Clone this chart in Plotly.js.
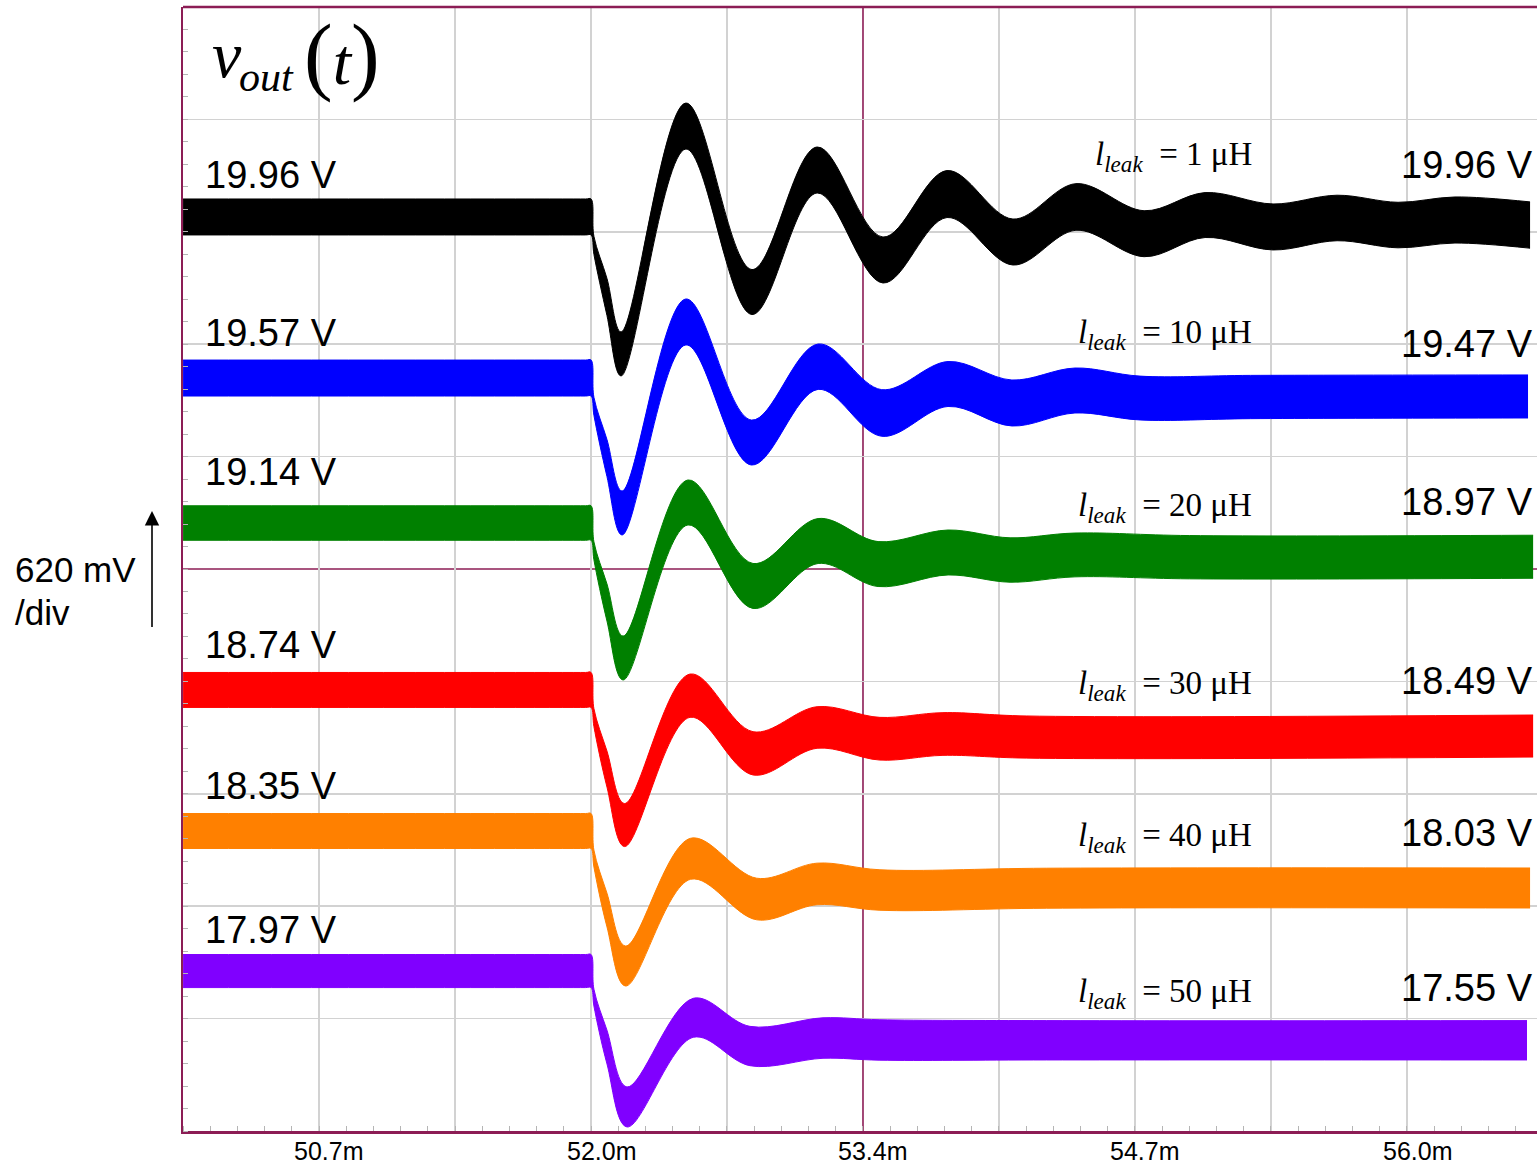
<!DOCTYPE html>
<html><head><meta charset="utf-8">
<script src="https://cdn.plot.ly/plotly-3.0.1.min.js"></script>
<style>html,body{margin:0;padding:0;overflow:hidden;background:#fff}</style>
</head><body><div id="chart" style="width:1537px;height:1164px"></div>
<script>
// ---------- DATA (time in ms, level in scope divisions, ripple p-p in divisions) ----------
const tickVals = [50.733, 51.4, 52.067, 52.733, 53.4, 54.067, 54.733, 55.4, 56.067];
const tickText = ['50.7m', '', '52.0m', '', '53.4m', '', '54.7m', '', '56.0m'];
const xCenter = 53.4;           // centre time division
const yDivs = [1, 2, 3, 4, 5, 6, 7, 8, 9];
const yCenter = 5;              // centre vertical division

const leakValues = ['1', '10', '20', '30', '40', '50'];
const vBefore = ['19.96 V', '19.57 V', '19.14 V', '18.74 V', '18.35 V', '17.97 V'];
const vAfter  = ['19.96 V', '19.47 V', '18.97 V', '18.49 V', '18.03 V', '17.55 V'];

const tBlack = [50.067, 52.040, 52.067, 52.081, 52.145, 52.214, 52.532, 52.856, 53.175, 53.498, 53.812, 54.135, 54.444, 54.778, 55.077, 55.410, 55.724, 56.023, 56.302, 56.670];
const cBlack = [8.132, 8.132, 8.132, 7.880, 7.420, 6.913, 8.941, 7.464, 8.550, 7.749, 8.336, 7.909, 8.221, 7.983, 8.149, 8.043, 8.123, 8.060, 8.105, 8.060];
const rBlack = [0.320, 0.320, 0.320, 0.160, 0.330, 0.391, 0.409, 0.400, 0.409, 0.409, 0.418, 0.409, 0.415, 0.409, 0.400, 0.409, 0.405, 0.405, 0.410, 0.412];

const tBlue = [50.067, 52.040, 52.067, 52.081, 52.145, 52.219, 52.532, 52.853, 53.180, 53.492, 53.817, 54.130, 54.439, 54.758, 55.300, 56.660];
const cBlue = [6.699, 6.699, 6.699, 6.448, 5.987, 5.498, 7.198, 6.125, 6.800, 6.388, 6.646, 6.477, 6.588, 6.521, 6.530, 6.535];
const rBlue = [0.320, 0.320, 0.320, 0.160, 0.330, 0.391, 0.409, 0.400, 0.404, 0.415, 0.400, 0.409, 0.400, 0.390, 0.385, 0.383];

const tGreen = [50.067, 52.040, 52.067, 52.081, 52.145, 52.224, 52.542, 52.861, 53.180, 53.474, 53.817, 54.121, 54.439, 55.000, 56.685];
const cGreen = [5.409, 5.409, 5.409, 5.162, 4.702, 4.208, 5.592, 4.849, 5.249, 5.044, 5.147, 5.080, 5.125, 5.105, 5.109];
const rGreen = [0.307, 0.307, 0.307, 0.160, 0.330, 0.391, 0.400, 0.400, 0.400, 0.400, 0.400, 0.395, 0.390, 0.385, 0.383];

const tRed = [50.067, 52.040, 52.067, 52.081, 52.145, 52.231, 52.552, 52.861, 53.175, 53.483, 53.792, 54.200, 56.685];
const cRed = [3.924, 3.924, 3.924, 3.678, 3.220, 2.722, 3.873, 3.360, 3.590, 3.490, 3.532, 3.505, 3.514];
const rRed = [0.311, 0.311, 0.311, 0.160, 0.320, 0.383, 0.385, 0.385, 0.370, 0.380, 0.380, 0.375, 0.374];

const tOrange = [50.067, 52.040, 52.067, 52.081, 52.145, 52.236, 52.555, 52.879, 53.175, 53.483, 54.300, 56.670];
const cOrange = [2.669, 2.669, 2.669, 2.424, 1.966, 1.468, 2.422, 2.064, 2.198, 2.144, 2.160, 2.162];
const rOrange = [0.311, 0.311, 0.311, 0.150, 0.300, 0.356, 0.365, 0.370, 0.370, 0.360, 0.356, 0.356];

const tPurple = [50.067, 52.040, 52.067, 52.081, 52.145, 52.243, 52.568, 52.846, 53.204, 53.483, 54.300, 56.655];
const cPurple = [1.423, 1.423, 1.423, 1.187, 0.747, 0.214, 1.007, 0.756, 0.827, 0.810, 0.807, 0.807];
const rPurple = [0.294, 0.294, 0.294, 0.150, 0.300, 0.356, 0.347, 0.350, 0.360, 0.360, 0.350, 0.350];

// ---------- LAYOUT / STYLE ----------
const W = 1537, H = 1164, ML = 183, MT = 7, MB = 33, MR = 0;
const PW = W - ML - MR, PH = H - MT - MB;
const px = x => (x - ML) / PW;
const py = y => (H - MB - y) / PH;

const maroon = '#8c1d55';
const gridC = '#d2d2d2';
const sans = 'Liberation Sans, Arial, sans-serif';
const serif = 'Liberation Serif, Times New Roman, serif';

const series = [
  [tBlack, cBlack, rBlack, '#000000'],
  [tBlue, cBlue, rBlue, '#0000ff'],
  [tGreen, cGreen, rGreen, '#008000'],
  [tRed, cRed, rRed, '#ff0000'],
  [tOrange, cOrange, rOrange, '#ff8000'],
  [tPurple, cPurple, rPurple, '#8000ff']
];

const traces = [];
series.forEach(([t, c, r, col]) => {
  const hi = c.map((v, i) => v + r[i] / 2);
  const lo = c.map((v, i) => v - r[i] / 2);
  traces.push({x: t, y: hi, mode: 'lines', line: {color: col, width: 1, shape: 'spline'}, hoverinfo: 'skip', showlegend: false});
  traces.push({x: t, y: lo, mode: 'lines', line: {color: col, width: 1, shape: 'spline'}, fill: 'tonexty', fillcolor: col, hoverinfo: 'skip', showlegend: false});
});

const leftY = [175, 333, 472, 645, 786, 930];
const rightY = [165, 344, 502, 681, 833, 988];
const leakY = [157, 334, 507, 685, 837, 993];

const ann = [];
// x tick labels (from tickVals / tickText)
tickVals.forEach((v, i) => { if (tickText[i]) ann.push({text: tickText[i], xref: 'x', yref: 'paper', x: v, xshift: 10, y: py(1151), xanchor: 'center', yanchor: 'middle', showarrow: false, font: {family: sans, size: 25, color: '#000'}}); });

vBefore.forEach((s, i) => ann.push({text: s, xref: 'paper', yref: 'paper', x: px(203), y: py(leftY[i]), xanchor: 'left', yanchor: 'middle', showarrow: false, font: {family: sans, size: 38, color: '#000'}}));
vAfter.forEach((s, i) => ann.push({text: s, xref: 'paper', yref: 'paper', x: px(1535), y: py(rightY[i]), xanchor: 'right', yanchor: 'middle', showarrow: false, font: {family: sans, size: 38, color: '#000'}}));
leakValues.forEach((s, i) => ann.push({text: '<i>l</i><sub><i>leak</i></sub>\u00a0\u00a0= ' + s + '\u00a0\u03bcH', xref: 'paper', yref: 'paper', x: px(1254), y: py(leakY[i]), xanchor: 'right', yanchor: 'middle', showarrow: false, font: {family: serif, size: 33, color: '#000'}}));

// title v_out(t)
ann.push({text: '<i>v</i>', xref: 'paper', yref: 'paper', x: px(210), y: py(55), xanchor: 'left', yanchor: 'middle', showarrow: false, font: {family: serif, size: 66, color: '#000'}});
ann.push({text: '<i>out</i>', xref: 'paper', yref: 'paper', x: px(237), y: py(77), xanchor: 'left', yanchor: 'middle', showarrow: false, font: {family: serif, size: 42, color: '#000'}});
ann.push({text: '<span style="font-size:86px">(</span><i>t</i><span style="font-size:86px">)</span>', xref: 'paper', yref: 'paper', x: px(302), y: py(55), xanchor: 'left', yanchor: 'middle', showarrow: false, font: {family: serif, size: 66, color: '#000'}});

// scale note
ann.push({text: '620 mV', xref: 'paper', yref: 'paper', x: px(13), y: py(569), xanchor: 'left', yanchor: 'middle', showarrow: false, font: {family: sans, size: 35, color: '#000'}});
ann.push({text: '/div', xref: 'paper', yref: 'paper', x: px(13), y: py(612), xanchor: 'left', yanchor: 'middle', showarrow: false, font: {family: sans, size: 35, color: '#000'}});
ann.push({text: ' ', xref: 'paper', yref: 'paper', x: px(152), y: py(511), axref: 'pixel', ayref: 'pixel', ax: 0, ay: 126, showarrow: true, arrowhead: 2, arrowsize: 1.8, arrowwidth: 1.6, arrowcolor: '#000', standoff: 0});

const layout = {
  width: W, height: H,
  margin: {l: ML, r: MR, t: MT, b: MB, pad: 0},
  paper_bgcolor: '#fff', plot_bgcolor: '#fff',
  showlegend: false,
  xaxis: {
    range: [50.0667, 56.704], tickmode: 'array',
    tickvals: tickVals.filter(v => v !== xCenter),
    showticklabels: false,
    showgrid: true, gridcolor: gridC, gridwidth: 1.5, zeroline: false,
    ticks: '', showline: true, linecolor: maroon, linewidth: 2.5,
    minor: {tickmode: 'linear', tick0: 50.0667, dtick: 0.133333, ticks: 'inside', ticklen: 5, tickcolor: '#b5b5b5', tickwidth: 1, showgrid: false},
    fixedrange: true
  },
  yaxis: {
    range: [0, 10], tickmode: 'array', tickvals: yDivs.filter(v => v !== yCenter),
    showgrid: true, gridcolor: gridC, gridwidth: 1.5, zeroline: false,
    showticklabels: false, ticks: '', showline: true, linecolor: maroon, linewidth: 2.5,
    minor: {tickmode: 'linear', tick0: 0, dtick: 0.2, ticks: 'inside', ticklen: 5, tickcolor: '#b5b5b5', tickwidth: 1, showgrid: false},
    fixedrange: true
  },
  shapes: [
    {type: 'line', xref: 'paper', yref: 'paper', x0: 0, x1: 1, y0: 1, y1: 1, line: {color: maroon, width: 2.5}},
    {type: 'line', xref: 'x', yref: 'paper', x0: xCenter, x1: xCenter, y0: 0, y1: 1, layer: 'below', line: {color: maroon, width: 1.6}},
    {type: 'line', xref: 'paper', yref: 'y', x0: 0, x1: 1, y0: yCenter, y1: yCenter, layer: 'below', line: {color: maroon, width: 1.6}}
  ],
  annotations: ann
};

Plotly.newPlot('chart', traces, layout, {staticPlot: true, displayModeBar: false});
</script></body></html>
